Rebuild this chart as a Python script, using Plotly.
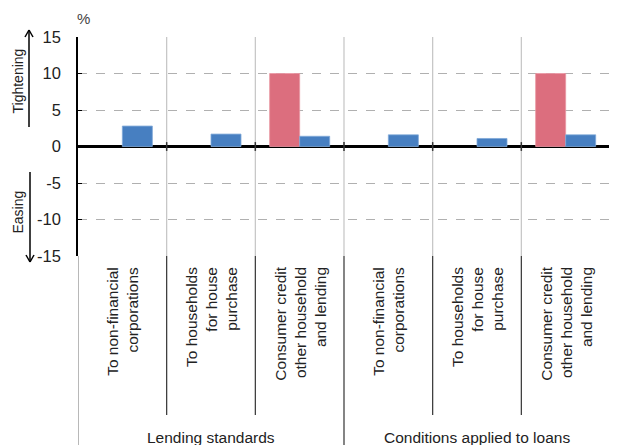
import plotly.graph_objects as go

categories = [
    "To non-financial<br>corporations",
    "To households<br>for house<br>purchase",
    "Consumer credit<br>other household<br>and lending",
    "To non-financial<br>corporations",
    "To households<br>for house<br>purchase",
    "Consumer credit<br>other household<br>and lending",
]
groups = ["Lending standards", "Conditions applied to loans"]
red_values = [None, None, 10, None, None, 10]
blue_values = [2.8, 1.7, 1.4, 1.6, 1.1, 1.6]
y_ticks = [-15, -10, -5, 0, 5, 10, 15]
y_tick_text = ["-15", "-10", "-5", "0", "5", "10", "15"]

OFF = 8  # page body margin
W, H = 617 - OFF, 445 - OFF
L, T = 78 - OFF, 37 - OFF
R = W - (610 - OFF)
B = H - (256 - OFF)
PW, PH = W - L - R, H - T - B

def px_x(p):
    return (p - OFF - L) / PW

def px_y(p):
    return (H - B - (p - OFF)) / PH

FONT = "Liberation Sans, Arial, sans-serif"
TXT = "#222222"
xs = list(range(len(categories)))

fig = go.Figure()
fig.add_trace(go.Bar(x=xs, y=red_values, marker=dict(color="#DC6E7E", line=dict(color="#EA97A3", width=0.8)),
                     showlegend=False))
fig.add_trace(go.Bar(x=xs, y=blue_values, marker=dict(color="#477FC1", line=dict(color="#7FA8D8", width=0.8)),
                     showlegend=False))

shapes = []
for i in range(len(categories)):
    b = i + 0.5
    shapes.append(dict(type="line", xref="x", yref="paper", x0=b, x1=b, y0=0, y1=1,
                       line=dict(color="#c4c4c4", width=1.2), layer="below"))
for i in range(-1, len(categories)):
    b = i + 0.5
    if i in (-1, 2, 5):
        y1 = px_y(446)
        col = "#888888" if i == -1 else "#333333"
    else:
        y1 = px_y(415)
        col = "#333333"
    shapes.append(dict(type="line", xref="x", yref="paper", x0=b, x1=b, y0=0, y1=y1,
                       line=dict(color=col, width=1.2)))
for i in range(len(categories)):
    b = i + 0.5
    shapes.append(dict(type="line", xref="x", yref="y", x0=b, x1=b, y0=-0.6, y1=0.6,
                       line=dict(color="#333333", width=1.5)))

def arrow(xp, y_tail, y_head):
    d = 7 if y_head < y_tail else -7
    shapes.append(dict(type="line", xref="paper", yref="paper", x0=px_x(xp), x1=px_x(xp),
                       y0=px_y(y_tail), y1=px_y(y_head), line=dict(color="black", width=1.5)))
    for s in (-4, 4):
        shapes.append(dict(type="line", xref="paper", yref="paper", x0=px_x(xp), x1=px_x(xp + s),
                           y0=px_y(y_head), y1=px_y(y_head + d), line=dict(color="black", width=1.5)))
arrow(29, 127, 30)
arrow(30, 172, 262)

annotations = []
for i, c in enumerate(categories):
    annotations.append(dict(x=i, xref="x", y=px_y(265), yref="paper", text=c, textangle=-90,
                            xanchor="center", yanchor="top", align="right", showarrow=False,
                            font=dict(family=FONT, size=15.5, color=TXT)))
for j, g in enumerate(groups):
    annotations.append(dict(x=1 + 3 * j, xref="x", y=px_y(437), yref="paper", text=g,
                            xanchor="center", yanchor="middle", showarrow=False,
                            font=dict(family=FONT, size=15.5, color=TXT)))
annotations.append(dict(x=px_x(83), xref="paper", y=px_y(19), yref="paper", text="%",
                        xanchor="center", yanchor="middle", showarrow=False,
                        font=dict(family=FONT, size=15, color="#444")))
annotations.append(dict(x=px_x(8.5), xref="paper", y=px_y(81), yref="paper", text="Tightening",
                        textangle=-90, xanchor="left", yanchor="middle", showarrow=False, borderpad=0,
                        font=dict(family=FONT, size=14, color=TXT)))
annotations.append(dict(x=px_x(8.5), xref="paper", y=px_y(212), yref="paper", text="Easing",
                        textangle=-90, xanchor="left", yanchor="middle", showarrow=False, borderpad=0,
                        font=dict(family=FONT, size=14, color=TXT)))

fig.update_layout(
    width=W, height=H,
    margin=dict(l=L, r=R, t=T, b=B, pad=0),
    paper_bgcolor="white", plot_bgcolor="white",
    barmode="group", bargap=0.323, bargroupgap=0,
    shapes=shapes, annotations=annotations,
    xaxis=dict(range=[-0.5, len(categories) - 0.5], showticklabels=False, showgrid=False,
               zeroline=False, showline=False, ticks=""),
    yaxis=dict(range=[-15, 15], tickvals=y_ticks, ticktext=y_tick_text,
               showline=True, linecolor="black", linewidth=1.5,
               ticks="inside", ticklen=4, tickcolor="black", tickwidth=1.2,
               showgrid=True, gridcolor="#b0b0b0", griddash="dash", gridwidth=1,
               zeroline=True, zerolinecolor="black", zerolinewidth=2.5,
               ticklabelstandoff=12,
               tickfont=dict(family=FONT, size=16.5, color=TXT)),
)

fig.write_html("out.html")
